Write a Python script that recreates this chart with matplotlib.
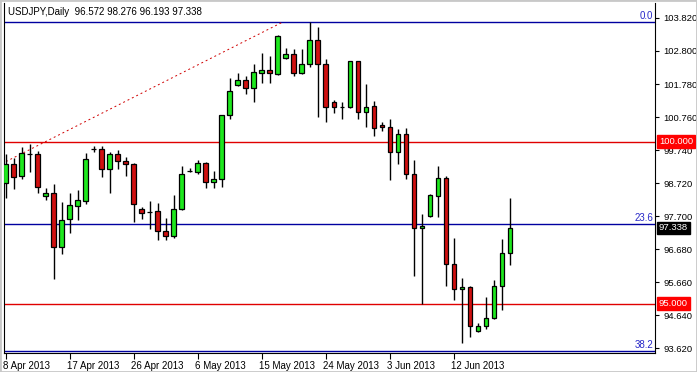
import matplotlib
matplotlib.use("Agg")
import matplotlib.pyplot as plt
import matplotlib.transforms as mtransforms
from matplotlib.patches import Rectangle

# daily bars, left to right (broker data incl. sunday bars)
opens = [98.74, 99.31, 98.93, 99.63, 99.62, 98.32, 98.41, 96.76, 97.60, 98.03,
         98.18, 99.77, 99.77, 99.15, 99.61, 99.40, 99.30, 97.91, 97.83, 97.85,
         97.24, 97.10, 97.91, 99.11, 99.08, 99.33, 98.75, 98.84, 100.81, 101.74,
         101.90, 101.65, 102.13, 102.21, 102.08, 102.57, 102.71, 102.11, 102.40, 103.14,
         102.40, 101.22, 101.06, 101.06, 102.48, 100.91, 101.09, 100.51, 100.45, 99.69,
         100.23, 98.99, 97.33, 97.71, 98.32, 98.87, 96.22, 95.45, 95.53, 94.16,
         94.31, 94.55, 95.56, 96.572]
highs = [99.62, 99.49, 99.85, 99.93, 99.71, 98.56, 98.70, 98.14, 98.41, 98.51,
         99.66, 99.87, 99.87, 99.68, 99.74, 99.54, 99.33, 97.97, 98.17, 98.10,
         97.65, 98.37, 99.25, 99.18, 99.44, 99.37, 99.11, 100.83, 101.96, 102.12,
         102.03, 102.40, 102.73, 102.65, 103.28, 102.88, 102.85, 102.85, 103.70, 103.55,
         102.54, 101.29, 101.21, 102.50, 102.50, 101.78, 101.26, 100.60, 100.70, 100.39,
         100.41, 99.44, 97.77, 98.39, 99.25, 98.94, 97.02, 95.79, 95.55, 94.40,
         95.21, 95.73, 97.00, 98.276]
lows = [98.25, 98.54, 98.85, 99.08, 98.43, 98.20, 95.75, 96.55, 97.17, 97.59,
        98.07, 99.69, 98.92, 98.43, 99.15, 98.95, 97.51, 97.62, 97.31, 96.97,
        96.97, 97.03, 97.89, 99.08, 99.00, 98.58, 98.56, 98.61, 100.69, 101.72,
        101.46, 101.22, 101.80, 101.80, 102.06, 102.55, 102.04, 102.09, 102.29, 100.77,
        100.62, 100.90, 100.69, 101.04, 100.69, 100.44, 100.19, 100.33, 98.82, 99.30,
        98.84, 95.87, 94.98, 97.69, 97.67, 95.56, 95.12, 93.78, 93.96, 94.14,
        94.21, 94.52, 94.81, 96.193]
closes = [99.30, 98.92, 99.64, 99.63, 98.59, 98.42, 96.76, 97.59, 98.05, 98.19,
          99.47, 99.77, 99.15, 99.61, 99.40, 99.30, 98.07, 97.81, 97.83, 97.24,
          97.10, 97.92, 99.00, 99.11, 99.33, 98.75, 98.84, 100.81, 101.57, 101.90,
          101.65, 102.14, 102.21, 102.11, 103.26, 102.71, 102.11, 102.40, 103.14, 102.40,
          101.06, 101.06, 101.06, 102.48, 100.91, 101.06, 100.41, 100.44, 99.69, 100.23,
          98.99, 97.33, 97.39, 98.36, 98.87, 96.22, 95.45, 95.53, 94.31, 94.31,
          94.55, 95.56, 96.56, 97.338]

date_idx = [0, 8, 16, 24, 32, 40, 48, 56]
date_labels = ["8 Apr 2013", "17 Apr 2013", "26 Apr 2013", "6 May 2013",
               "15 May 2013", "24 May 2013", "3 Jun 2013", "12 Jun 2013"]
price_ticks = [103.82, 102.80, 101.78, 100.76, 99.74, 98.72,
               97.70, 96.68, 95.66, 94.64, 93.62]

fib_names = ["0.0", "23.6", "38.2"]
fib_prices = [103.70, 97.46, 93.53]
level_prices = [100.0, 95.0]
trend_x = [-0.5, 34.7]
trend_y = [99.32, 103.70]

header = "USDJPY,Daily  96.572 98.276 96.193 97.338"

plt.rcParams["font.family"] = ["Liberation Sans", "DejaVu Sans"]

W, H = 697, 372
fig = plt.figure(figsize=(W / 100, H / 100), dpi=100)
ax = fig.add_axes([4 / W, 19 / H, 651 / W, 350 / H])

BULL = "#1ee81e"
BEAR = "#d01010"
FS = 7
YFS = 6.8

x = list(range(len(opens)))
ax.vlines(x, lows, highs, color="black", lw=1, zorder=3)
for i in x:
    o, c = opens[i], closes[i]
    col = BULL if c > o else (BEAR if c < o else "black")
    ax.bar(i, abs(c - o), bottom=min(o, c), width=0.55, color=col,
           edgecolor="black", lw=0.9, zorder=4)

for p in level_prices:
    ax.axhline(p, color="#e00000", lw=1, zorder=2)
for p in fib_prices:
    ax.axhline(p, color="#0000a0", lw=1, zorder=2)
ax.plot(trend_x, trend_y, color="#d00000", lw=0.7, ls=(0, (2, 3)), zorder=2)

ax.set_xlim(-0.21, 81.16)
ax.set_ylim(93.48, 104.28)

ax.yaxis.tick_right()
ax.set_yticks(price_ticks)
ax.set_yticklabels([f"{v:.3f}" for v in price_ticks])
ax.tick_params(axis="y", direction="out", length=3, pad=3, labelsize=YFS)
ax.set_xticks(date_idx)
ax.set_xticklabels(date_labels, ha="left")
ax.tick_params(axis="x", direction="out", length=4, pad=2, labelsize=FS)
for lab in ax.get_xticklabels():
    lab.set_transform(lab.get_transform() + mtransforms.ScaledTranslation(-3 / 100, 0, fig.dpi_scale_trans))
for s in ["left", "right", "bottom"]:
    ax.spines[s].set_color("black")
ax.spines["top"].set_visible(False)

yt = mtransforms.blended_transform_factory(ax.transAxes, ax.transData)
for name, p in zip(fib_names, fib_prices):
    ax.text(0.997, p + 0.04, name, transform=yt, ha="right", va="bottom",
            color="#2828c8", fontsize=FS)

boxes = [(100.0, "100.000", "#ff0000"), (95.0, "95.000", "#ff0000"), (97.338, "97.338", "black")]
for p, txt, bg in boxes:
    ax.text(1.006, p, txt, transform=yt, ha="left", va="center", color="white",
            fontsize=YFS, clip_on=False, zorder=10,
            bbox=dict(boxstyle="square,pad=0.2", fc=bg, ec=bg))

fig.text(8 / W, 1 - 12 / H, header, fontsize=FS, va="center", ha="left")
fig.patches.append(Rectangle((0, 0), 1, 1, transform=fig.transFigure, fill=False,
                             ec="#c8c8c8", lw=2))

fig.savefig("out.png", dpi=100)
